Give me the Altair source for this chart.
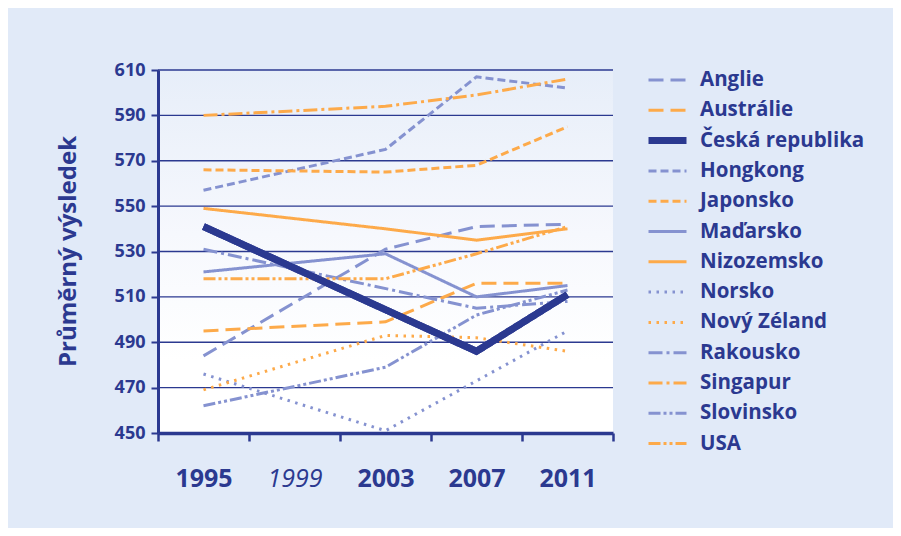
import altair as alt
import pandas as pd

years = ["1995", "1999", "2003", "2007", "2011"]
countries = ["Anglie", "Austrálie", "Česká republika", "Hongkong", "Japonsko",
             "Maďarsko", "Nizozemsko", "Norsko", "Nový Zéland", "Rakousko",
             "Singapur", "Slovinsko", "USA"]

anglie = [484, None, 531, 541, 542]
australie = [495, None, 499, 516, 516]
cesko = [541, None, None, 486, 511]
hongkong = [557, None, 575, 607, 602]
japonsko = [566, None, 565, 568, 585]
madarsko = [521, None, 529, 510, 515]
nizozemsko = [549, None, 540, 535, 540]
norsko = [476, None, 451, 473, 495]
novy_zeland = [469, None, 493, 492, 486]
rakousko = [531, None, None, 505, 508]
singapur = [590, None, 594, 599, 606]
slovinsko = [462, None, 479, 502, 513]
usa = [518, None, 518, 529, 541]

series = [anglie, australie, cesko, hongkong, japonsko, madarsko, nizozemsko,
          norsko, novy_zeland, rakousko, singapur, slovinsko, usa]

y_ticks = [450, 470, 490, 510, 530, 550, 570, 590, 610]

DARK = "#2b3990"
BLUE = "#8592d0"
ORANGE = "#fdaa4a"
BG = "#e1eaf8"
FONT = "Open Sans"

colors = [BLUE, ORANGE, DARK, BLUE, ORANGE, BLUE, ORANGE, BLUE, ORANGE, BLUE, ORANGE, BLUE, ORANGE]
dashes = [[15, 7], [15, 7], [1, 0], [8, 4], [8, 4], [1, 0], [1, 0],
          [2.5, 5.5], [2.5, 5.5], [14, 4, 3, 4], [14, 4, 3, 4],
          [12, 3, 3, 3, 3, 3], [12, 3, 3, 3, 3, 3]]
widths = [3, 3, 7, 3, 3, 3, 3, 3, 3, 3, 3, 3, 3]

rows = []
for c, vals in zip(countries, series):
    for y, v in zip(years, vals):
        if v is not None:
            rows.append({"zeme": c, "rok": y, "vysledek": v})
df = pd.DataFrame(rows)

yscale = alt.Scale(domain=[450, 610], nice=False, zero=False)
xscale = alt.Scale(domain=years, type="band", paddingInner=0, paddingOuter=0)

x_enc = alt.X("rok:O", scale=xscale, bandPosition=0.5,
              axis=alt.Axis(title=None, tickBand="extent", labelAngle=0, grid=False,
                            domainColor=DARK, domainWidth=3.5, tickColor=DARK, tickWidth=2.5,
                            tickSize=8, labelColor=DARK, labelFont=FONT, labelFontSize=25,
                            labelFontWeight={"condition": {"test": "datum.value == '1999'", "value": "normal"}, "value": "bold"},
                            labelFontStyle={"condition": {"test": "datum.value == '1999'", "value": "italic"}, "value": "normal"},
                            labelPadding=25, zindex=1))
y_enc = alt.Y("vysledek:Q", scale=yscale,
              axis=alt.Axis(title="Průměrný výsledek", values=y_ticks, grid=False,
                            domainColor=DARK, domainWidth=3, tickColor=DARK, tickWidth=2,
                            tickSize=7, labelColor=DARK, labelFont=FONT, labelFontSize=18,
                            labelFontWeight="bold", labelPadding=6,
                            titleColor=DARK, titleFont=FONT, titleFontSize=24, titleFontWeight="bold",
                            titleX=-90, titleY=181, titleAngle=270, titleAlign="center",
                            titleBaseline="middle", zindex=1))

color_enc = alt.Color("zeme:N", scale=alt.Scale(domain=countries, range=colors),
                      legend=alt.Legend(title=None, orient="none", legendX=487, legendY=-5,
                                        symbolType="stroke", symbolSize=1444,
                                        labelFont=FONT, labelFontSize=20.5, labelFontWeight="bold",
                                        labelColor=DARK, labelLimit=300, rowPadding=0.3,
                                        clipHeight=30, labelOffset=10))
dash_enc = alt.StrokeDash("zeme:N", scale=alt.Scale(domain=countries, range=dashes))
width_enc = alt.StrokeWidth("zeme:N", scale=alt.Scale(type="ordinal", domain=countries, range=widths))

grad = alt.Gradient(gradient="linear", x1=0, x2=0, y1=0, y2=1,
                    stops=[alt.GradientStop(color="#e7eef9", offset=0),
                           alt.GradientStop(color="#f6f8fd", offset=0.45),
                           alt.GradientStop(color="#ffffff", offset=0.8)])

bg = alt.Chart(pd.DataFrame({"lo": [450], "hi": [610]})).mark_rect(color=grad).encode(
    y=alt.Y("hi:Q", scale=yscale), y2="lo:Q")

grid = alt.Chart(pd.DataFrame({"v": y_ticks[1:]})).mark_rule(color=DARK, strokeWidth=1.4).encode(
    y=alt.Y("v:Q", scale=yscale))

lines = alt.Chart(df).mark_line(strokeCap="butt", strokeJoin="miter").encode(
    x=x_enc, y=y_enc, color=color_enc, strokeDash=dash_enc, strokeWidth=width_enc,
    detail="zeme:N")

czech = alt.Chart(df[df["zeme"] == "Česká republika"]).mark_line(strokeCap="butt").encode(
    x=x_enc, y=y_enc, color=color_enc, strokeDash=dash_enc, strokeWidth=width_enc)

chart = alt.layer(bg, grid, lines, czech).resolve_scale(
    y="shared").properties(
    width=455, height=363,
    autosize=alt.AutoSizeParams(type="none"),
    padding={"left": 150, "top": 62, "right": 280, "bottom": 95},
    background=BG,
).configure_view(stroke=None)

chart.save("out.html", embed_options={"renderer": "svg", "actions": False})
